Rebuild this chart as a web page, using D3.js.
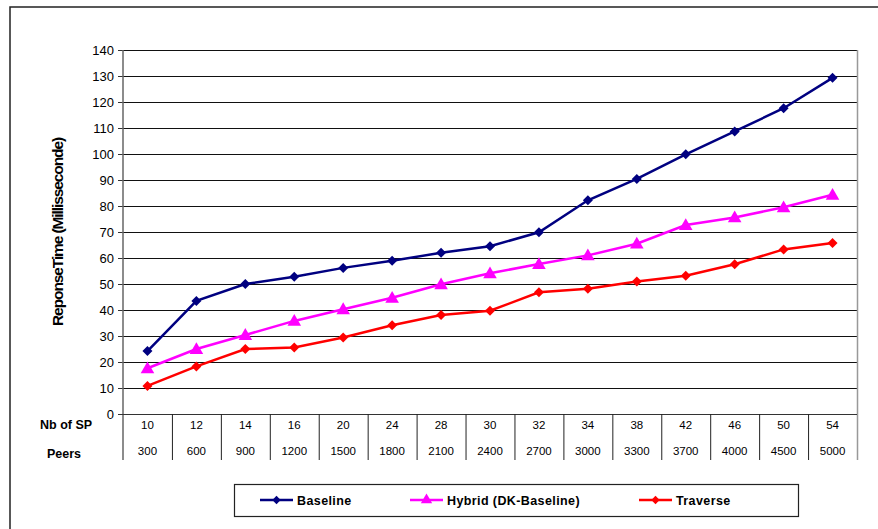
<!DOCTYPE html>
<html><head><meta charset="utf-8">
<script src="https://cdn.jsdelivr.net/npm/d3@7"></script>
<style>body{margin:0;background:#fff}svg{display:block;font-family:"Liberation Sans",Arial,sans-serif}</style>
</head><body><svg id="c" width="878" height="529"></svg>
<script>
const nbSP = ["10","12","14","16","20","24","28","30","32","34","38","42","46","50","54"];
const peers = ["300","600","900","1200","1500","1800","2100","2400","2700","3000","3300","3700","4000","4500","5000"];
const baseline = [24.2,43.5,50,52.8,56.2,58.9,62,64.5,69.9,82.2,90.4,99.9,108.7,117.6,129.3];
const hybrid = [17.6,25,30.4,35.8,40.3,44.7,49.9,54.1,57.7,61,65.5,72.7,75.6,79.5,84.3];
const traverse = [10.8,18.3,25,25.6,29.4,34.1,38.1,39.7,46.8,48.2,51,53.2,57.6,63.3,65.8];
const yTicks = [0,10,20,30,40,50,60,70,80,90,100,110,120,130,140];
const seriesNames = ["Baseline","Hybrid (DK-Baseline)","Traverse"];

const svg = d3.select("#c");
// outer frame
svg.append("rect").attr("x",10).attr("y",7).attr("width",900).attr("height",600)
  .attr("fill","none").attr("stroke","#222").attr("stroke-width",1.5);

const L=123, R=857, T=50, B=414;
const x = d3.scaleBand().domain(nbSP).range([L,R]);
const y = d3.scaleLinear().domain([0,140]).range([B,T]);

// gridlines
svg.append("g").selectAll("line").data(yTicks.filter(d=>d>0)).join("line")
  .attr("x1",L).attr("x2",R).attr("y1",d=>y(d)+0.5).attr("y2",d=>y(d)+0.5)
  .attr("stroke","#111").attr("stroke-width",1);
// right plot border
svg.append("line").attr("x1",R+0.5).attr("x2",R+0.5).attr("y1",T).attr("y2",460)
  .attr("stroke","#999").attr("stroke-width",1.5);

// y axis
const ya = svg.append("g").attr("transform",`translate(${L},0)`)
  .call(d3.axisLeft(y).tickValues(yTicks).tickSize(5).tickPadding(4));
ya.select(".domain").remove();
ya.selectAll(".tick line").attr("stroke","#333");
ya.selectAll("text").attr("font-size",13).attr("fill","#000").attr("font-family","Liberation Sans, Arial");
svg.append("line").attr("x1",L).attr("x2",L).attr("y1",T).attr("y2",460).attr("stroke","#666").attr("stroke-width",1.5);
svg.append("line").attr("x1",L-5).attr("x2",R).attr("y1",B+0.5).attr("y2",B+0.5).attr("stroke","#333").attr("stroke-width",1.2);

// table separators
svg.append("g").selectAll("line").data(nbSP.slice(1)).join("line")
  .attr("x1",d=>x(d)+0.5).attr("x2",d=>x(d)+0.5).attr("y1",B).attr("y2",460)
  .attr("stroke","#222").attr("stroke-width",1);

// table text
svg.append("g").selectAll("text").data(nbSP).join("text")
  .attr("x",d=>x(d)+x.bandwidth()/2).attr("y",429).attr("text-anchor","middle")
  .attr("font-size",11.5).text(d=>d);
svg.append("g").selectAll("text").data(peers).join("text")
  .attr("x",(d,i)=>x(nbSP[i])+x.bandwidth()/2).attr("y",455).attr("text-anchor","middle")
  .attr("font-size",11.5).text(d=>d);
svg.append("text").attr("x",40).attr("y",429).attr("font-size",12.5).attr("font-weight","bold").text("Nb of SP");
svg.append("text").attr("x",47).attr("y",458).attr("font-size",12.5).attr("font-weight","bold").text("Peers");

// y label
svg.append("text").attr("transform","translate(63,232) rotate(-90)").attr("text-anchor","middle")
  .attr("font-size",15.5).attr("font-weight","bold").attr("letter-spacing","-1.1")
  .text("ReponseTime (Millisseconde)");

const diamond = d3.symbolSquare;
const series = [
  {name:seriesNames[0], data:baseline, color:"#000080", sym:diamond, size:50, rot:45},
  {name:seriesNames[1], data:hybrid, color:"#FF00FF", sym:d3.symbolTriangle, size:80, rot:0},
  {name:seriesNames[2], data:traverse, color:"#FF0000", sym:diamond, size:50, rot:45}
];
const cx = i=>x(nbSP[i])+x.bandwidth()/2;
const line = d3.line().x((d,i)=>cx(i)).y(d=>y(d));
series.forEach(s=>{
  svg.append("path").attr("d",line(s.data)).attr("fill","none").attr("stroke",s.color).attr("stroke-width",2.5);
  svg.append("g").selectAll("path").data(s.data).join("path")
    .attr("transform",(d,i)=>`translate(${cx(i)},${y(d)+(s.rot?0:1)}) rotate(${s.rot})`)
    .attr("d",d3.symbol(s.sym,s.size)).attr("fill",s.color);
});

// legend
svg.append("rect").attr("x",234.5).attr("y",484.5).attr("width",564).attr("height",32)
  .attr("fill","#fff").attr("stroke","#222").attr("stroke-width",1.2);
const lx = [260,410,639];
series.forEach((s,i)=>{
  const g = svg.append("g");
  g.append("line").attr("x1",lx[i]).attr("x2",lx[i]+33).attr("y1",500).attr("y2",500).attr("stroke",s.color).attr("stroke-width",2.5);
  g.append("path").attr("transform",`translate(${lx[i]+16.5},500) rotate(${s.rot})`).attr("d",d3.symbol(s.sym,s.size*0.7)).attr("fill",s.color);
  g.append("text").attr("x",lx[i]+37).attr("y",504.5).attr("font-size",12.5).attr("font-weight","bold").attr("letter-spacing","0.4").text(s.name);
});
</script></body></html>
